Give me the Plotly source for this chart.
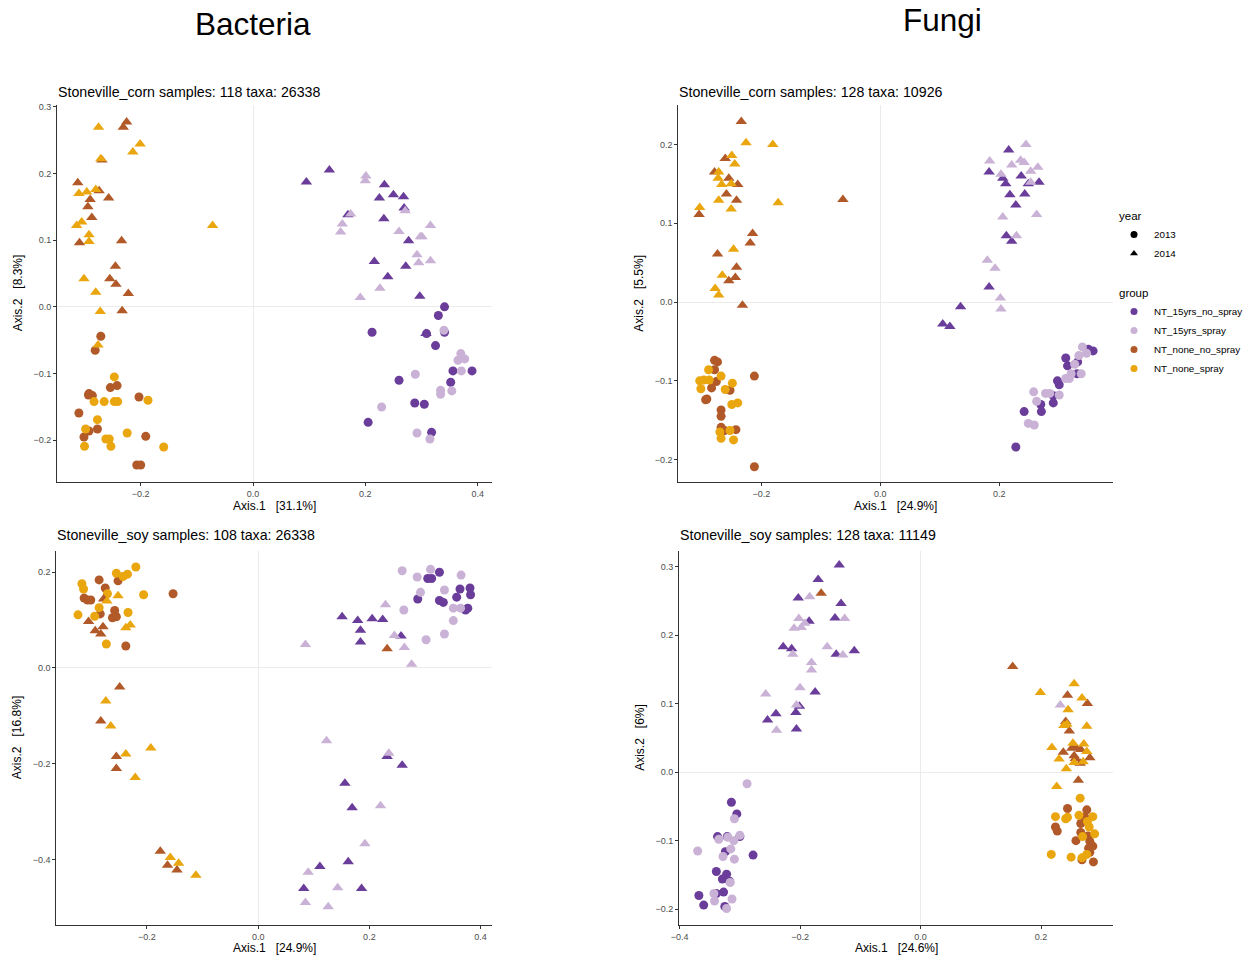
import plotly.graph_objects as go

# ---------------- colours / groups ----------------
groups = ["NT_15yrs_no_spray", "NT_15yrs_spray", "NT_none_no_spray", "NT_none_spray"]
group_colors = ["#6A3D9A", "#CAB2D6", "#B15928", "#EAA60F"]
years = ["2013", "2014"]
year_symbols = ["circle", "triangle-up"]

# ---------------- Panel 1: Bacteria, Stoneville_corn ----------------
bc_15np_2013 = [(0.341, 0.000), (0.330, -0.013), (0.212, -0.038), (0.309, -0.040), (0.341, -0.038),
                (0.325, -0.058), (0.356, -0.096), (0.390, -0.096), (0.260, -0.110), (0.352, -0.113),
                (0.288, -0.144), (0.305, -0.146), (0.205, -0.173), (0.318, -0.188)]
bc_15sp_2013 = [(0.340, -0.035), (0.370, -0.070), (0.365, -0.080), (0.377, -0.078), (0.371, -0.096),
                (0.289, -0.101), (0.334, -0.125), (0.334, -0.131), (0.354, -0.126), (0.229, -0.150),
                (0.292, -0.189), (0.315, -0.198)]
bc_nnp_2013 = [(-0.271, -0.044), (-0.281, -0.065), (-0.254, -0.121), (-0.242, -0.118), (-0.292, -0.130),
               (-0.286, -0.133), (-0.293, -0.132), (-0.203, -0.135), (-0.310, -0.159), (-0.277, -0.183),
               (-0.292, -0.186), (-0.301, -0.195), (-0.191, -0.194), (-0.207, -0.237), (-0.200, -0.237)]
bc_nsp_2013 = [(-0.247, -0.105), (-0.283, -0.142), (-0.265, -0.142), (-0.247, -0.142), (-0.241, -0.142),
               (-0.187, -0.140), (-0.277, -0.169), (-0.298, -0.183), (-0.224, -0.189), (-0.262, -0.198),
               (-0.256, -0.198), (-0.300, -0.209), (-0.253, -0.209), (-0.159, -0.210)]
bc_15np_2014 = [(0.095, 0.187), (0.136, 0.205), (0.234, 0.183), (0.225, 0.163), (0.250, 0.168),
                (0.268, 0.165), (0.269, 0.148), (0.169, 0.138), (0.233, 0.132), (0.277, 0.099),
                (0.216, 0.068), (0.272, 0.061), (0.240, 0.045), (0.297, 0.016), (0.308, -0.040)]
bc_15sp_2014 = [(0.201, 0.196), (0.200, 0.189), (0.174, 0.139), (0.159, 0.124), (0.156, 0.112),
                (0.271, 0.144), (0.260, 0.113), (0.316, 0.122), (0.298, 0.105), (0.301, 0.105),
                (0.292, 0.078), (0.295, 0.066), (0.316, 0.069), (0.226, 0.028), (0.191, 0.014)]
bc_nnp_2014 = [(-0.225, 0.277), (-0.231, 0.269), (-0.269, 0.220), (-0.312, 0.186), (-0.274, 0.174),
               (-0.290, 0.161), (-0.257, 0.163), (-0.294, 0.150), (-0.287, 0.134), (-0.309, 0.096),
               (-0.234, 0.099), (-0.245, 0.061), (-0.255, 0.042), (-0.244, 0.034), (-0.222, 0.020),
               (-0.233, -0.006)]
bc_nsp_2014 = [(-0.275, 0.269), (-0.201, 0.244), (-0.214, 0.232), (-0.271, 0.222), (-0.310, 0.170),
               (-0.296, 0.172), (-0.280, 0.176), (-0.314, 0.122), (-0.305, 0.127), (-0.292, 0.108),
               (-0.292, 0.098), (-0.072, 0.122), (-0.301, 0.042), (-0.280, 0.022), (-0.272, -0.007),
               (-0.276, -0.057)]

# ---------------- Panel 2: Fungi, Stoneville_corn ----------------
fc_15np_2013 = [(0.350, -0.060), (0.358, -0.062), (0.312, -0.071), (0.315, -0.081), (0.331, -0.091),
                (0.298, -0.100), (0.301, -0.105), (0.291, -0.119), (0.291, -0.128), (0.270, -0.130),
                (0.271, -0.139), (0.242, -0.139), (0.228, -0.184), (0.332, -0.076)]
fc_15sp_2013 = [(0.340, -0.057), (0.347, -0.065), (0.334, -0.068), (0.327, -0.079), (0.321, -0.091),
                (0.338, -0.091), (0.312, -0.097), (0.318, -0.097), (0.301, -0.118), (0.278, -0.116),
                (0.285, -0.116), (0.258, -0.114), (0.263, -0.126), (0.249, -0.154), (0.259, -0.156)]
fc_nnp_2013 = [(-0.279, -0.074), (-0.274, -0.076), (-0.279, -0.086), (-0.276, -0.101), (-0.284, -0.109),
               (-0.253, -0.112), (-0.292, -0.123), (-0.294, -0.124), (-0.212, -0.094), (-0.268, -0.137),
               (-0.268, -0.145), (-0.268, -0.159), (-0.262, -0.163), (-0.243, -0.162), (-0.212, -0.209)]
fc_nsp_2013 = [(-0.289, -0.086), (-0.304, -0.100), (-0.297, -0.099), (-0.288, -0.099), (-0.268, -0.094),
               (-0.302, -0.110), (-0.261, -0.111), (-0.249, -0.103), (-0.250, -0.130), (-0.240, -0.128),
               (-0.270, -0.165), (-0.268, -0.173), (-0.253, -0.163), (-0.247, -0.175)]
fc_15np_2014 = [(0.216, 0.193), (0.183, 0.165), (0.206, 0.157), (0.211, 0.150), (0.237, 0.160),
                (0.249, 0.150), (0.267, 0.152), (0.218, 0.136), (0.243, 0.137), (0.228, 0.123),
                (0.212, 0.084), (0.221, 0.077), (0.183, 0.019), (0.135, -0.006), (0.105, -0.028),
                (0.117, -0.031)]
fc_15sp_2014 = [(0.245, 0.200), (0.184, 0.179), (0.221, 0.174), (0.236, 0.180), (0.242, 0.177),
                (0.265, 0.171), (0.253, 0.166), (0.203, 0.162), (0.253, 0.152), (0.206, 0.108),
                (0.263, 0.111), (0.229, 0.084), (0.180, 0.053), (0.193, 0.043), (0.202, 0.005),
                (0.203, -0.009)]
fc_nnp_2014 = [(-0.234, 0.229), (-0.261, 0.182), (-0.279, 0.165), (-0.255, 0.157), (-0.240, 0.149),
               (-0.259, 0.137), (-0.242, 0.129), (-0.305, 0.111), (-0.215, 0.087), (-0.219, 0.075),
               (-0.274, 0.061), (-0.242, 0.044), (-0.244, 0.031), (-0.255, 0.027), (-0.232, -0.004),
               (-0.063, 0.130)]
fc_nsp_2014 = [(-0.226, 0.202), (-0.181, 0.200), (-0.250, 0.186), (-0.245, 0.175), (-0.272, 0.165),
               (-0.273, 0.157), (-0.267, 0.149), (-0.251, 0.150), (-0.272, 0.129), (-0.251, 0.118),
               (-0.172, 0.126), (-0.304, 0.120), (-0.247, 0.067), (-0.266, 0.034), (-0.278, 0.017),
               (-0.272, 0.009)]

# ---------------- Panel 3: Bacteria, Stoneville_soy ----------------
bs_15np_2013 = [(0.326, 0.200), (0.305, 0.187), (0.312, 0.187), (0.287, 0.144), (0.326, 0.141),
                (0.333, 0.137), (0.363, 0.165), (0.381, 0.167), (0.357, 0.148), (0.382, 0.153),
                (0.377, 0.125), (0.373, 0.121)]
bs_15sp_2013 = [(0.259, 0.203), (0.310, 0.206), (0.286, 0.190), (0.365, 0.194), (0.292, 0.158),
                (0.335, 0.163), (0.262, 0.121), (0.351, 0.125), (0.364, 0.125), (0.351, 0.099),
                (0.335, 0.071), (0.302, 0.059)]
bs_nnp_2013 = [(-0.286, 0.184), (-0.252, 0.182), (-0.275, 0.167), (-0.313, 0.146), (-0.307, 0.142),
               (-0.301, 0.142), (-0.153, 0.155), (-0.258, 0.120), (-0.284, 0.113), (-0.262, 0.105),
               (-0.255, 0.107), (-0.238, 0.046)]
bs_nsp_2013 = [(-0.220, 0.211), (-0.255, 0.198), (-0.235, 0.196), (-0.243, 0.191), (-0.317, 0.176),
               (-0.314, 0.165), (-0.271, 0.155), (-0.206, 0.153), (-0.324, 0.111), (-0.286, 0.126),
               (-0.234, 0.116), (-0.294, 0.108), (-0.273, 0.050)]
bs_15np_2014 = [(0.151, 0.107), (0.179, 0.099), (0.205, 0.103), (0.224, 0.101), (0.184, 0.079),
                (0.184, 0.054), (0.257, 0.067), (0.232, -0.185), (0.259, -0.203), (0.156, -0.241),
                (0.169, -0.292), (0.162, -0.405), (0.111, -0.415), (0.082, -0.461), (0.186, -0.461)]
bs_15sp_2014 = [(0.229, 0.132), (0.245, 0.068), (0.263, 0.043), (0.276, 0.008), (0.085, 0.049),
                (0.123, -0.152), (0.235, -0.178), (0.220, -0.288), (0.192, -0.367), (0.090, -0.427),
                (0.143, -0.459), (0.085, -0.490), (0.126, -0.499)]
bs_nnp_2014 = [(-0.278, 0.144), (-0.305, 0.097), (-0.279, 0.086), (-0.293, 0.078), (-0.283, 0.071),
               (-0.249, -0.040), (-0.283, -0.111), (-0.255, -0.185), (-0.255, -0.210), (-0.176, -0.383),
               (-0.163, -0.412), (-0.146, -0.422), (0.232, 0.040)]
bs_nsp_2014 = [(-0.252, 0.151), (-0.272, 0.140), (-0.238, 0.084), (-0.230, 0.090), (-0.274, -0.069),
               (-0.265, -0.121), (-0.238, -0.180), (-0.193, -0.167), (-0.221, -0.229), (-0.158, -0.396),
               (-0.143, -0.408), (-0.112, -0.433)]

# ---------------- Panel 4: Fungi, Stoneville_soy ----------------
fs_15np_2013 = [(-0.314, -0.044), (-0.305, -0.061), (-0.337, -0.094), (-0.321, -0.094), (-0.300, -0.094),
                (-0.278, -0.121), (-0.324, -0.116), (-0.339, -0.145), (-0.322, -0.149), (-0.329, -0.156),
                (-0.317, -0.159), (-0.368, -0.180), (-0.339, -0.177), (-0.327, -0.175), (-0.360, -0.194),
                (-0.325, -0.196)]
fs_15sp_2013 = [(-0.288, -0.017), (-0.309, -0.068), (-0.335, -0.098), (-0.320, -0.095), (-0.300, -0.092),
                (-0.310, -0.100), (-0.370, -0.115), (-0.328, -0.123), (-0.315, -0.112), (-0.309, -0.127),
                (-0.316, -0.161), (-0.343, -0.177), (-0.342, -0.188), (-0.313, -0.185), (-0.322, -0.199)]
fs_nnp_2013 = [(0.244, -0.053), (0.276, -0.055), (0.273, -0.066), (0.266, -0.075), (0.224, -0.080),
               (0.227, -0.086), (0.266, -0.088), (0.278, -0.093), (0.258, -0.100), (0.281, -0.101),
               (0.283, -0.108), (0.279, -0.111), (0.286, -0.108), (0.281, -0.117), (0.268, -0.128),
               (0.287, -0.131)]
fs_nsp_2013 = [(0.265, -0.038), (0.224, -0.065), (0.244, -0.066), (0.241, -0.068), (0.263, -0.063),
               (0.286, -0.065), (0.277, -0.072), (0.280, -0.080), (0.289, -0.090), (0.269, -0.094),
               (0.217, -0.120), (0.250, -0.124), (0.268, -0.125), (0.276, -0.120)]
fs_15np_2014 = [(-0.135, 0.302), (-0.170, 0.281), (-0.203, 0.254), (-0.132, 0.246), (-0.185, 0.220),
                (-0.142, 0.225), (-0.228, 0.183), (-0.214, 0.180), (-0.140, 0.172), (-0.110, 0.177),
                (-0.175, 0.117), (-0.201, 0.096), (-0.240, 0.085), (-0.207, 0.087), (-0.254, 0.076),
                (-0.206, 0.063)]
fs_15sp_2014 = [(-0.184, 0.256), (-0.202, 0.224), (-0.126, 0.224), (-0.210, 0.210), (-0.198, 0.211),
                (-0.192, 0.217), (-0.155, 0.183), (-0.212, 0.172), (-0.129, 0.171), (-0.181, 0.160),
                (-0.181, 0.149), (-0.200, 0.123), (-0.257, 0.114), (-0.206, 0.098), (-0.239, 0.061),
                (0.232, 0.098)]
fs_nnp_2014 = [(-0.165, 0.261), (0.153, 0.154), (0.244, 0.112), (0.277, 0.100), (0.241, 0.074),
               (0.247, 0.060), (0.237, 0.029), (0.251, 0.035), (0.258, 0.036), (0.266, 0.033),
               (0.255, 0.024), (0.257, 0.020), (0.281, 0.021), (0.265, 0.013), (0.262, -0.012)]
fs_nsp_2014 = [(0.255, 0.129), (0.199, 0.116), (0.268, 0.108), (0.245, 0.091), (0.238, 0.068),
               (0.276, 0.067), (0.218, 0.036), (0.253, 0.042), (0.271, 0.041), (0.276, 0.030),
               (0.230, 0.019), (0.242, 0.005), (0.255, 0.014), (0.270, 0.015), (0.226, -0.021),
               (0.243, 0.070)]

# ---------------- panel texts ----------------
panel_titles = ["Stoneville_corn samples: 118 taxa: 26338", "Stoneville_corn samples: 128 taxa: 10926",
                "Stoneville_soy samples: 108 taxa: 26338", "Stoneville_soy samples: 128 taxa: 11149"]
x_titles = ["Axis.1   [31.1%]", "Axis.1   [24.9%]", "Axis.1   [24.9%]", "Axis.1   [24.6%]"]
y_titles = ["Axis.2   [8.3%]", "Axis.2   [5.5%]", "Axis.2   [16.8%]", "Axis.2   [6%]"]
column_titles = ["Bacteria", "Fungi"]

panels = [
    [[bc_15np_2013, bc_15np_2014], [bc_15sp_2013, bc_15sp_2014], [bc_nnp_2013, bc_nnp_2014], [bc_nsp_2013, bc_nsp_2014]],
    [[fc_15np_2013, fc_15np_2014], [fc_15sp_2013, fc_15sp_2014], [fc_nnp_2013, fc_nnp_2014], [fc_nsp_2013, fc_nsp_2014]],
    [[bs_15np_2013, bs_15np_2014], [bs_15sp_2013, bs_15sp_2014], [bs_nnp_2013, bs_nnp_2014], [bs_nsp_2013, bs_nsp_2014]],
    [[fs_15np_2013, fs_15np_2014], [fs_15sp_2013, fs_15sp_2014], [fs_nnp_2013, fs_nnp_2014], [fs_nsp_2013, fs_nsp_2014]],
]

# ---------------- layout geometry (pixels in a 1247x959 page) ----------------
W, H = 1247, 959
boxes = [(57, 491.7, 105, 481.7), (678.3, 1113.3, 105, 481.7),
         (56.3, 491.7, 550.7, 925), (679, 1113.3, 550.7, 925)]
x_ranges = [(-0.349, 0.425), (-0.340, 0.392), (-0.363, 0.420), (-0.401, 0.320)]
y_ranges = [(-0.262, 0.3025), (-0.228, 0.250), (-0.537, 0.245), (-0.223, 0.323)]
y_dticks = [0.1, 0.1, 0.2, 0.1]

FONT = "Liberation Sans, Arial, Helvetica, sans-serif"
fig = go.Figure()

for p, pdata in enumerate(panels):
    xa = "x" if p == 0 else f"x{p+1}"
    ya = "y" if p == 0 else f"y{p+1}"
    for yi in range(2):
        for g in range(4):
            pts = pdata[g][yi]
            fig.add_trace(go.Scatter(
                x=[q[0] for q in pts], y=[q[1] for q in pts], mode="markers",
                xaxis=xa, yaxis=ya, showlegend=False, hoverinfo="x+y",
                marker=dict(color=group_colors[g], symbol=year_symbols[yi],
                            size=9 if yi == 0 else 10, line=dict(width=0))))

# legend entries
for yi, yr in enumerate(years):
    fig.add_trace(go.Scatter(x=[None], y=[None], mode="markers", name=yr,
                             legendgroup="year", legendgrouptitle_text="year" if yi == 0 else None,
                             marker=dict(color="black", symbol=year_symbols[yi], size=7)))
for g, gname in enumerate(groups):
    fig.add_trace(go.Scatter(x=[None], y=[None], mode="markers", name=gname,
                             legendgroup="group", legendgrouptitle_text="group" if g == 0 else None,
                             marker=dict(color=group_colors[g], symbol="circle", size=7)))

axis_common = dict(showgrid=False, zeroline=True, zerolinecolor="#EBEBEB", zerolinewidth=1,
                   showline=True, linecolor="#333333", linewidth=1, ticks="outside", ticklen=3,
                   tickcolor="#333333", tickfont=dict(family=FONT, size=9, color="#4D4D4D"),
                   tickformat=".1f", automargin=False)
layout_axes = {}
for p in range(4):
    l, r, t, b = boxes[p]
    sx = "" if p == 0 else str(p + 1)
    layout_axes[f"xaxis{sx}"] = dict(axis_common, domain=[l / W, r / W], range=list(x_ranges[p]),
                                     dtick=0.2, tick0=0, anchor=f"y{sx}")
    layout_axes[f"yaxis{sx}"] = dict(axis_common, domain=[1 - b / H, 1 - t / H], range=list(y_ranges[p]),
                                     dtick=y_dticks[p], tick0=0, anchor=f"x{sx}")

annotations = []
nb = lambda s: s.replace(" ", "\u00a0")
col_pos = [(253, 24), (942, 20)]
for c, txt in enumerate(column_titles):
    annotations.append(dict(text=txt, x=col_pos[c][0] / W, y=1 - col_pos[c][1] / H, xref="paper", yref="paper",
                            showarrow=False, xanchor="center", yanchor="middle",
                            font=dict(family=FONT, size=31.5, color="black")))
for p in range(4):
    l, r, t, b = boxes[p]
    ty = 92 if p < 2 else 535
    annotations.append(dict(text=panel_titles[p], x=(l - 1) / W, y=1 - ty / H, xref="paper", yref="paper",
                            showarrow=False, xanchor="left", yanchor="middle",
                            font=dict(family=FONT, size=14.2, color="black")))
    xt_y = 506 if p < 2 else 948
    annotations.append(dict(text=nb(x_titles[p]), x=(l + r) / 2 / W, y=1 - xt_y / H, xref="paper", yref="paper",
                            showarrow=False, xanchor="center", yanchor="middle",
                            font=dict(family=FONT, size=12, color="black")))
    yt_x = l - 39
    annotations.append(dict(text=nb(y_titles[p]), x=yt_x / W, y=1 - ((t + b) / 2) / H, xref="paper", yref="paper",
                            showarrow=False, xanchor="center", yanchor="middle", textangle=-90,
                            font=dict(family=FONT, size=12, color="black")))

fig.update_layout(
    width=W, height=H, margin=dict(l=0, r=0, t=0, b=0, pad=0, autoexpand=False),
    paper_bgcolor="white", plot_bgcolor="white",
    annotations=annotations,
    showlegend=True,
    legend=dict(x=1114 / W, y=1 - 201 / H, xanchor="left", yanchor="top",
                font=dict(family=FONT, size=9.8, color="black"),
                grouptitlefont=dict(family=FONT, size=11.5, color="black"),
                tracegroupgap=20, itemsizing="trace", bgcolor="rgba(0,0,0,0)"),
    **layout_axes,
)

fig.write_html("out.html", config={"displayModeBar": False},
               post_script="document.body.style.margin='0px';document.body.style.overflow='hidden';")
